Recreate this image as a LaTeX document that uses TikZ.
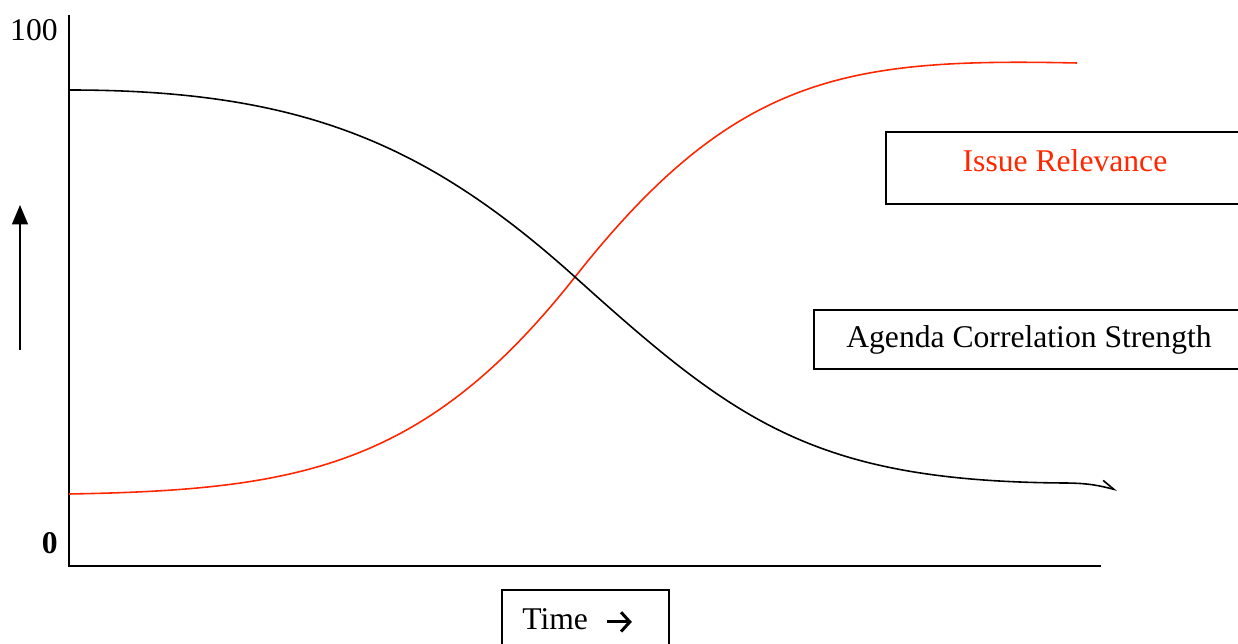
\documentclass[tikz,border=0pt]{standalone}
\usepackage{fontspec}
\setmainfont{Liberation Serif}
\usetikzlibrary{arrows.meta}
\definecolor{issuered}{RGB}{255,38,0}
\newcommand{\timearrow}{\tikz[baseline=-0.55ex]\draw[line width=1.7pt,-{Straight Barb[length=5pt,width=11pt]}] (0cm,0cm) -- (0.5cm,0cm);}
\begin{document}
\begin{tikzpicture}[x=0.02cm,y=-0.02cm,every node/.style={font=\fontsize{18}{21}\selectfont},
  axisline/.style={line width=1.1pt},
  labelbox/.style={draw,line width=0.9pt,minimum height=#1,inner sep=0pt},
  curveline/.style={line width=0.9pt}]
\useasboundingbox (0,0) rectangle (1238,644);
% axes
\coordinate (top) at (69,15);
\coordinate (origin) at (69,566);
\coordinate (xend) at (1101,566);
\draw[axisline] (top) -- (origin) -- (xend);
\node[anchor=east,inner sep=0pt] (hundred) at (58,30) {100};
\node[anchor=east,inner sep=0pt,font=\fontsize{18}{21}\selectfont\bfseries] (zero) at (58,543) {0};
% upward arrow left of the axis
\coordinate (upfoot) at (20,350);
\coordinate (uptip) at (20,205);
\draw[line width=1pt,-{Triangle[width=9pt,length=11pt]}] (upfoot) -- (uptip);
% the two curves cross at (575,277)
\coordinate (cross) at (575,277);
\coordinate (redstart) at (69,494);
\coordinate (redend) at (1077,63);
\coordinate (blackstart) at (69,90);
\coordinate (blackbend) at (1063,483);
\coordinate (blackend) at (1117,490);
\draw[curveline,issuered] (redstart) .. controls (300,490) and (425,467) .. (cross)
  .. controls (735,74) and (847,58) .. (redend);
\draw[curveline,-{Straight Barb[left,length=7pt,width=7pt]}] (blackstart) .. controls (299,90) and (425,142) .. (cross)
  .. controls (735,421) and (813,481) .. (blackbend) .. controls (1090,483) and (1100,486) .. (blackend);
% legend boxes (cut off at the right edge)
\node[labelbox=72*0.02cm,minimum width=370*0.02cm,anchor=north west] (issuebox) at (885,131) {};
\node[issuered] (issue) at (1065,161) {Issue Relevance};
\node[labelbox=59*0.02cm,minimum width=440*0.02cm,anchor=north west] (agendabox) at (813,309) {};
\node (agenda) at (1029,340) {Agenda Correlation Strength};
\node[labelbox=65*0.02cm,minimum width=167*0.02cm,anchor=north west] (timebox) at (501,589) {};
\node[anchor=west,inner sep=0pt] (time) at (522,621) {Time\hspace{0.55em}\timearrow};
\end{tikzpicture}
\end{document}
